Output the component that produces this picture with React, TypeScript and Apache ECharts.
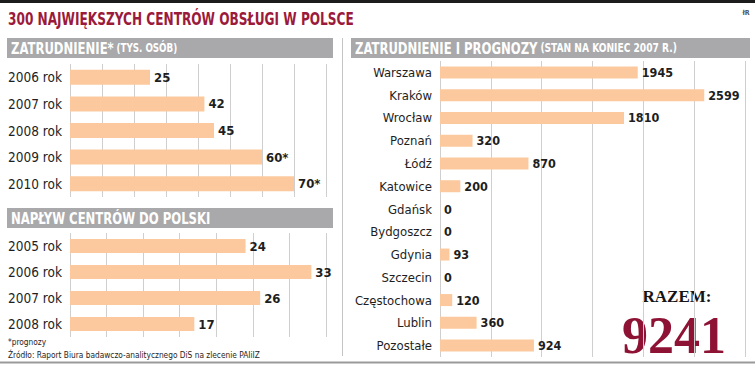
import React, { useEffect, useRef } from "react";
import * as echarts from "echarts";

const empYears = ["2006 rok", "2007 rok", "2008 rok", "2009 rok", "2010 rok"];
const empValues = [25, 42, 45, 60, 70];
const empLabels = ["25", "42", "45", "60*", "70*"];

const inflowYears = ["2005 rok", "2006 rok", "2007 rok", "2008 rok"];
const inflowValues = [24, 33, 26, 17];

const cities = [
  "Warszawa", "Kraków", "Wrocław", "Poznań", "Łódź", "Katowice", "Gdańsk",
  "Bydgoszcz", "Gdynia", "Szczecin", "Częstochowa", "Lublin", "Pozostałe",
];
const cityValues = [1945, 2599, 1810, 320, 870, 200, 0, 0, 93, 0, 120, 360, 924];

const totalLabel = "RAZEM:";
const totalValue = "9241";

const COND = "'Liberation Sans Narrow', 'DejaVu Sans Condensed', 'Open Sans', sans-serif";
const SERIF = "'Liberation Serif', 'DejaVu Serif', serif";
const BAR = "#fbc99d";
const GRID = "#cfcfcf";
const HEAD = "#a9a9ab";
const RED = "#9b1a3c";
const INK = "#1e1e1e";
const SX = 0.81;

export default function App() {
  const ref = useRef<HTMLDivElement>(null);
  useEffect(() => {
    document.body.style.margin = "0";
    if (!ref.current) return;
    const chart = echarts.init(ref.current, undefined, { renderer: "svg" });

    const catAxis = (data: string[], gridIndex: number, fs: number) => ({
      type: "category",
      gridIndex,
      data,
      inverse: true,
      axisLine: { show: false },
      axisTick: { show: false },
      axisLabel: { color: INK, fontSize: fs, fontFamily: COND, margin: 8 },
    });
    const valAxis = (gridIndex: number, max: number, interval: number) => ({
      type: "value",
      gridIndex,
      min: 0,
      max,
      interval,
      axisLabel: { show: false },
      axisLine: { show: false },
      axisTick: { show: false },
      splitLine: { show: true, lineStyle: { color: GRID, width: 1 } },
    });
    const labelStyle = (fs: number) => ({
      show: true,
      position: "right",
      distance: 4,
      color: INK,
      fontWeight: "bold",
      fontSize: fs,
      fontFamily: COND,
    });
    const mid = { textVerticalAlign: "middle", verticalAlign: "middle" };

    const option: any = {
      animation: false,
      grid: [
        { left: 70, width: 256, top: 64, height: 133 },
        { left: 70, width: 256, top: 233, height: 104 },
        { left: 440, width: 305, top: 61, height: 296 },
      ],
      xAxis: [valAxis(0, 80, 10), valAxis(1, 35, 5), valAxis(2, 3000, 500)],
      yAxis: [catAxis(empYears, 0, 13.5), catAxis(inflowYears, 1, 13.5), catAxis(cities, 2, 13)],
      series: [
        {
          type: "bar",
          xAxisIndex: 0,
          yAxisIndex: 0,
          data: empValues,
          barWidth: 15,
          itemStyle: { color: BAR },
          label: { ...labelStyle(13), formatter: (p: any) => empLabels[p.dataIndex] },
        },
        {
          type: "bar",
          xAxisIndex: 1,
          yAxisIndex: 1,
          data: inflowValues,
          barWidth: 14,
          itemStyle: { color: BAR },
          label: labelStyle(13),
        },
        {
          type: "bar",
          xAxisIndex: 2,
          yAxisIndex: 2,
          data: cityValues,
          barWidth: 12,
          itemStyle: { color: BAR },
          label: labelStyle(12.5),
        },
      ],
      graphic: [
        { type: "rect", shape: { x: 0, y: 0, width: 755, height: 3 }, style: { fill: "#1c1c1c" } },
        {
          type: "text", x: 8, y: 19, scaleX: 0.75,
          style: {
            text: "300 NAJWIĘKSZYCH CENTRÓW OBSŁUGI W POLSCE",
            fill: RED, fontSize: 18, fontWeight: "bold", fontFamily: COND, ...mid,
          },
        },
        {
          type: "text", x: 746, y: 13,
          style: {
            text: "łR", fill: "#555", fontSize: 7, fontWeight: "bold", fontFamily: COND,
            textAlign: "center", align: "center", ...mid,
          },
        },
        { type: "rect", shape: { x: 7, y: 38, width: 326, height: 20 }, style: { fill: HEAD } },
        {
          type: "text", x: 11, y: 48, scaleX: SX,
          style: {
            text: "{a|ZATRUDNIENIE*} {b|(TYS. OSÓB)}",
            ...mid,
            rich: {
              a: { fill: "#fff", fontSize: 16, fontWeight: "bold", fontFamily: COND },
              b: { fill: "#fff", fontSize: 12, fontWeight: "bold", fontFamily: COND },
            },
          },
        },
        { type: "rect", shape: { x: 7, y: 208, width: 326, height: 20 }, style: { fill: HEAD } },
        {
          type: "text", x: 11, y: 218, scaleX: SX,
          style: {
            text: "NAPŁYW CENTRÓW DO POLSKI", fill: "#fff", fontSize: 16, fontWeight: "bold",
            fontFamily: COND, ...mid,
          },
        },
        { type: "rect", shape: { x: 351, y: 38, width: 399, height: 20 }, style: { fill: HEAD } },
        {
          type: "text", x: 355, y: 48, scaleX: SX,
          style: {
            text: "{a|ZATRUDNIENIE I PROGNOZY} {b|(STAN NA KONIEC 2007 R.)}",
            ...mid,
            rich: {
              a: { fill: "#fff", fontSize: 16, fontWeight: "bold", fontFamily: COND },
              b: { fill: "#fff", fontSize: 12.5, fontWeight: "bold", fontFamily: COND },
            },
          },
        },
        { type: "line", shape: { x1: 342.5, y1: 38, x2: 342.5, y2: 356 }, style: { stroke: "#c4c4c4", lineWidth: 1 } },
        {
          type: "text", x: 8, y: 342, scaleX: 0.92,
          style: { text: "*prognozy", fill: INK, fontSize: 9, fontFamily: COND, ...mid },
        },
        {
          type: "text", x: 8, y: 355, scaleX: 0.92,
          style: {
            text: "Źródło: Raport Biura badawczo-analitycznego DiS na zlecenie PAIiIZ", fill: INK,
            fontSize: 9, fontFamily: COND, ...mid,
          },
        },
        { type: "line", shape: { x1: 0, y1: 362.5, x2: 755, y2: 362.5 }, style: { stroke: "#9a9a9a", lineWidth: 2 } },
        {
          type: "text", x: 677, y: 296.5,
          style: {
            text: totalLabel, fill: "#151515", fontSize: 17, fontWeight: "bold", fontFamily: SERIF,
            textAlign: "center", align: "center", ...mid,
          },
        },
        {
          type: "text", x: 674, y: 335.5,
          style: {
            text: totalValue, fill: "#8e1233", fontSize: 52, fontWeight: "bold", fontFamily: SERIF,
            textAlign: "center", align: "center", ...mid,
          },
        },
      ],
    };
    chart.setOption(option);
    return () => chart.dispose();
  }, []);
  return <div ref={ref} style={{ width: 755, height: 366 }} />;
}
